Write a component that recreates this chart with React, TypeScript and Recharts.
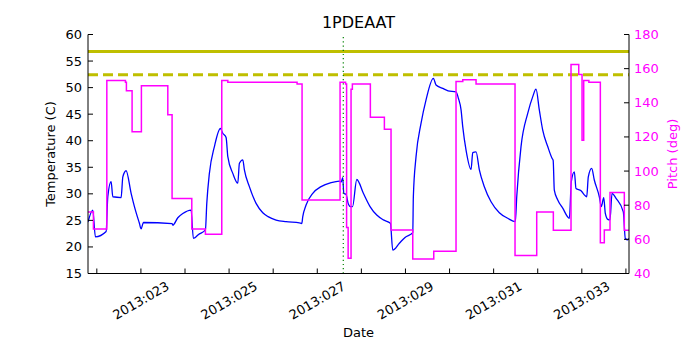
import React from "react";
import { ComposedChart, Line, XAxis, YAxis, ReferenceLine } from "recharts";

// day of year 2013 (fractional) and temperature in C
const tempDays = [
  21.8, 21.909, 21.968, 22.211, 22.249, 22.324, 22.363, 22.551, 22.59, 22.664,
  22.778, 22.853, 22.966, 23.005, 23.057, 23.707, 23.723, 23.837, 23.95, 24.138,
  24.19, 24.22, 24.3, 24.463, 24.494, 24.553, 24.667, 24.803, 24.857, 24.932,
  24.971, 25.084, 25.197, 25.234, 25.311, 25.347, 25.46, 25.612, 25.764, 25.884,
  26.066, 26.293, 26.594, 26.649, 26.671, 26.746, 26.898, 27.086, 27.313, 27.501,
  27.54, 27.578, 27.601, 27.653, 27.7, 27.75, 27.8, 27.896, 28.045, 28.197,
  28.349, 28.499, 28.658, 28.712, 28.862, 28.991, 29.166, 29.179, 29.24, 29.354,
  29.467, 29.633, 29.694, 29.846, 29.966, 30.147, 30.2, 30.261, 30.299, 30.374,
  30.488, 30.526, 30.601, 30.676, 30.789, 30.941, 31.129, 31.32, 31.492, 31.524,
  31.621, 31.773, 31.887, 31.961, 32.036, 32.113, 32.227, 32.324, 32.35, 32.376,
  32.454, 32.567, 32.717, 32.762, 32.83, 32.868, 32.982, 33.057, 33.111, 33.147,
  33.224, 33.283, 33.397, 33.442, 33.497, 33.533, 33.587, 33.639, 33.685, 33.776,
  33.941, 33.986, 34.041, 34.07,
];
const tempValues = [
  24.7, 26.95, 21.9, 22.9, 29.45, 32.3, 29.45, 29.3, 33.2, 34.35,
  30.1, 27.6, 24.45, 23.4, 24.6, 24.4, 24.1, 25.5, 26.3, 26.95,
  21.6, 21.7, 22.3, 23.2, 28.2, 33.85, 38.9, 42.3, 41.4, 40.6,
  37, 33.85, 32, 35.75, 36.4, 34.5, 31.35, 28.2, 26.45, 25.7,
  25.05, 24.75, 24.55, 24.4, 25.7, 27.9, 30.1, 31.35, 32.1, 32.4,
  32.2, 33.05, 30.1, 29.9, 28.2, 27.6, 27.6, 32.7, 30.1, 27.6,
  26.0, 25.1, 24.45, 19.4, 20.7, 21.8, 22.7, 29.45, 37, 43.3,
  47.7, 51.75, 50.5, 49.85, 49.4, 49.2, 48, 45.8, 42.65, 38.25,
  34.6, 37.75, 37.9, 34.5, 31.35, 28.5, 26.45, 25.4, 24.75, 29.45,
  38.9, 45.15, 48.3, 49.7, 45.8, 42, 38.9, 36.7, 36.3, 30.7,
  28.85, 27.3, 25.4, 32.3, 34.15, 31, 30.6, 29.8, 29.45, 33.2,
  34.8, 32.6, 29.45, 27.6, 29.3, 26.3, 25.2, 25.1, 30.1, 29.15,
  26.6, 21.6, 21.35, 21.6,
];

// pitch steps (deg), value holds until next day entry
const pitchDays = [
  21.8, 21.923, 22.227, 22.649, 22.671, 22.8, 23.011, 23.61, 23.707, 24.154,
  24.463, 24.834, 24.971, 26.542, 26.655, 27.517, 27.642, 27.665, 27.7, 27.75,
  27.766, 27.796, 28.204, 28.522, 28.673, 29.166, 29.642, 30.147, 30.3, 30.601,
  31.485, 31.977, 32.354, 32.755, 32.93, 33.005, 33.043, 33.16, 33.42, 33.51,
  33.639, 33.964, 34.07,
];
const pitchValues = [
  76, 66, 153, 152, 147, 123, 150, 133, 84, 66,
  63, 153, 152, 151, 83, 152, 151, 67, 49, 49,
  148, 151, 131.5, 124.5, 65.5, 48.5, 53, 152.5, 153.5, 151,
  50.5, 76, 65.3, 162.5, 156.5, 118, 153, 152, 58, 65.5,
  87.5, 65.3, 65.3,
];

const dayTicks = [22, 23, 24, 25, 26, 27, 28, 29, 30, 31, 32, 33, 34];
const tempTicks = [15, 20, 25, 30, 35, 40, 45, 50, 55, 60];
const pitchTicks = [40, 60, 80, 100, 120, 140, 160, 180];

const yellowLimit = 56.8;
const planningLimit = 52.4;
const markerDay = 27.59;

const tempRows = tempDays.map((d, i) => ({ d, t: tempValues[i] }));
const pitchRows = pitchDays.map((d, i) => ({ d, p: pitchValues[i] }));

const FONT = "DejaVu Sans";
const MAGENTA = "#ff00ff";

const DayTick = (props: any) => {
  const { x, y, payload } = props;
  const d = payload.value as number;
  const cy = y + 27;
  return (
    <g>
      <line x1={x} y1={y} x2={x} y2={y - 5} stroke="#000" />
      {d % 2 === 1 && (
        <text
          x={x}
          y={cy}
          textAnchor="middle"
          dominantBaseline="central"
          fontFamily={FONT}
          fontSize={13}
          fill="#000"
          transform={`rotate(-30, ${x}, ${cy})`}
        >
          {`2013:${String(d).padStart(3, "0")}`}
        </text>
      )}
    </g>
  );
};

const TopTick = (props: any) => {
  const { x, y } = props;
  return <line x1={x} y1={y} x2={x} y2={y + 5} stroke="#000" />;
};

const TempTick = (props: any) => {
  const { x, y, payload } = props;
  return (
    <g>
      <line x1={x} y1={y} x2={x + 5} y2={y} stroke="#000" />
      <text x={x - 6} y={y} textAnchor="end" dominantBaseline="central" fontFamily={FONT} fontSize={13} fill="#000">
        {payload.value}
      </text>
    </g>
  );
};

const PitchTick = (props: any) => {
  const { x, y, payload } = props;
  return (
    <g>
      <line x1={x} y1={y} x2={x - 5} y2={y} stroke="#000" />
      <text x={x + 5} y={y} textAnchor="start" dominantBaseline="central" fontFamily={FONT} fontSize={13} fill={MAGENTA}>
        {payload.value}
      </text>
    </g>
  );
};

export default function App() {
  return (
    <div style={{ position: "absolute", left: 0, top: 0, width: 700, height: 350, background: "#fff" }}>
      <ComposedChart width={700} height={350} margin={{ top: 34.5, right: 0, bottom: 0, left: 0 }}>
        <XAxis
          xAxisId="x"
          dataKey="d"
          type="number"
          domain={[21.8, 34.07]}
          allowDataOverflow
          ticks={dayTicks}
          interval={0}
          tickSize={0}
          tickMargin={0}
          tick={<DayTick />}
          height={76.5}
          axisLine={{ stroke: "#000" }}
        />
        <XAxis
          xAxisId="top"
          orientation="top"
          dataKey="d"
          type="number"
          domain={[21.8, 34.07]}
          allowDataOverflow
          ticks={dayTicks}
          interval={0}
          tickSize={0}
          tickMargin={0}
          tick={<TopTick />}
          height={0}
          axisLine={{ stroke: "#000" }}
        />
        <YAxis
          yAxisId="temp"
          domain={[15, 60]}
          allowDataOverflow
          ticks={tempTicks}
          interval={0}
          tickSize={0}
          tickMargin={0}
          tick={<TempTick />}
          width={88}
          axisLine={{ stroke: "#000" }}
        />
        <YAxis
          yAxisId="pitch"
          orientation="right"
          domain={[40, 180]}
          allowDataOverflow
          ticks={pitchTicks}
          interval={0}
          tickSize={0}
          tickMargin={0}
          tick={<PitchTick />}
          width={71}
          axisLine={{ stroke: "#000" }}
        />
        <Line
          data={tempRows}
          xAxisId="x"
          yAxisId="temp"
          dataKey="t"
          type="monotone"
          stroke="#0000ff"
          strokeWidth={1.3}
          dot={false}
          activeDot={false}
          isAnimationActive={false}
        />
        <ReferenceLine xAxisId="x" yAxisId="temp" y={yellowLimit} stroke="#bfbf00" strokeWidth={3} />
        <ReferenceLine xAxisId="x" yAxisId="temp" y={planningLimit} stroke="#bfbf00" strokeWidth={3} strokeDasharray="10 5" />
        <ReferenceLine xAxisId="x" yAxisId="temp" x={markerDay} stroke="#008000" strokeWidth={1.2} strokeDasharray="1.2 3" />
        <Line
          data={pitchRows}
          xAxisId="x"
          yAxisId="pitch"
          dataKey="p"
          type="stepAfter"
          stroke={MAGENTA}
          strokeWidth={1.5}
          dot={false}
          activeDot={false}
          isAnimationActive={false}
        />
      </ComposedChart>
      <svg width={700} height={350} style={{ position: "absolute", left: 0, top: 0, pointerEvents: "none" }}>
        <text x={358.5} y={28} textAnchor="middle" fontFamily={FONT} fontSize={16} fill="#000">
          1PDEAAT
        </text>
        <text
          x={55}
          y={154}
          textAnchor="middle"
          fontFamily={FONT}
          fontSize={13}
          fill="#000"
          transform="rotate(-90, 55, 154)"
        >
          Temperature (C)
        </text>
        <text
          x={677}
          y={154}
          textAnchor="middle"
          fontFamily={FONT}
          fontSize={13}
          fill={MAGENTA}
          transform="rotate(-90, 677, 154)"
        >
          Pitch (deg)
        </text>
        <text x={358.5} y={337} textAnchor="middle" fontFamily={FONT} fontSize={13} fill="#000">
          Date
        </text>
      </svg>
    </div>
  );
}
